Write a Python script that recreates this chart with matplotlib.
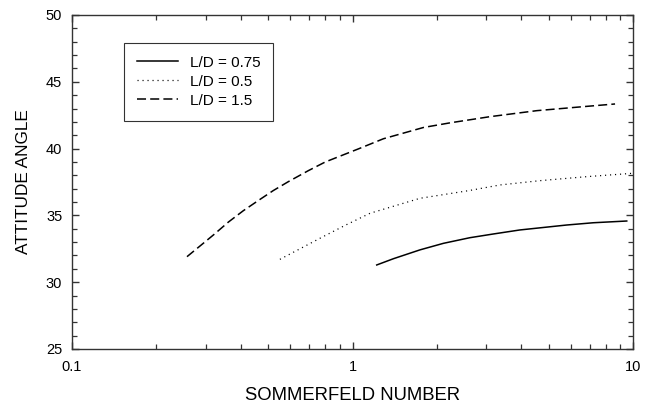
import matplotlib
matplotlib.use("Agg")
import matplotlib.pyplot as plt
from matplotlib.ticker import LogLocator, FixedLocator, NullFormatter, MultipleLocator

plt.rcParams['font.family'] = ['Liberation Sans', 'DejaVu Sans']
plt.rcParams['lines.scale_dashes'] = False

# Data
x_075 = [1.22, 1.40, 1.74, 2.11, 2.62, 3.18, 3.95, 5.80, 7.22, 9.5]
y_075 = [31.29, 31.76, 32.42, 32.91, 33.33, 33.61, 33.91, 34.28, 34.45, 34.58]

x_05 = [0.551, 0.766, 0.94, 1.155, 1.74, 2.59, 3.36, 4.66, 6.84, 9.95]
y_05 = [31.71, 33.29, 34.25, 35.16, 36.28, 36.85, 37.28, 37.60, 37.90, 38.15]

x_15 = [0.257, 0.286, 0.319, 0.361, 0.408, 0.462, 0.522, 0.590, 0.696, 0.80,
        1.05, 1.29, 1.79, 2.23, 3.09, 4.54, 6.65, 8.63]
y_15 = [31.91, 32.71, 33.53, 34.50, 35.35, 36.12, 36.86, 37.52, 38.35, 39.00,
        39.98, 40.74, 41.58, 41.93, 42.39, 42.84, 43.14, 43.34]

labels = ["L/D = 0.75", "L/D = 0.5", "L/D = 1.5"]
x_ticks = [0.1, 1, 10]
x_ticklabels = ["0.1", "1", "10"]
y_ticks = [25, 30, 35, 40, 45, 50]

W, H = 651, 409
fig = plt.figure(figsize=(W/100, H/100), dpi=100)
ax = fig.add_axes([72/W, (H-349)/H, 561/W, 334/H])

ax.plot(x_075, y_075, color='black', lw=1.1, linestyle='-', label=labels[0])
ax.plot(x_05, y_05, color='black', lw=0.9, linestyle=(0, (0.8, 2.8)), label=labels[1])
ax.plot(x_15, y_15, color='black', lw=1.1, linestyle=(0, (6.5, 3.0)), label=labels[2])

ax.set_xscale('log')
ax.set_xlim(0.1, 10)
ax.set_ylim(25, 50)
ax.xaxis.set_major_locator(FixedLocator(x_ticks))
ax.set_xticklabels(x_ticklabels)
ax.xaxis.set_minor_locator(LogLocator(base=10, subs=range(2, 10)))
ax.xaxis.set_minor_formatter(NullFormatter())
ax.set_yticks(y_ticks)
ax.yaxis.set_minor_locator(MultipleLocator(1))

for s in ax.spines.values():
    s.set_color('#333333')
    s.set_linewidth(1.0)

ax.tick_params(which='both', direction='in', top=True, right=True, color='#333333', labelsize=10.5)
ax.tick_params(which='major', length=5, width=1.0, pad=7)
ax.tick_params(which='minor', length=3.5, width=0.9)
ax.tick_params(axis='x', which='major', pad=8)

xl = ax.set_xlabel("SOMMERFELD NUMBER", fontsize=13.3)
ax.xaxis.set_label_coords(0.5, (349-396)/334)
xl.set_va('center')
yl = ax.set_ylabel("ATTITUDE ANGLE", fontsize=12.4)
ax.yaxis.set_label_coords((24-72)/561, 0.5)
yl.set_va('center')

leg = ax.legend(loc='upper left', bbox_to_anchor=((124-72)/561, (349-42.7)/334),
                fontsize=11, frameon=True, fancybox=False, edgecolor='black',
                handlelength=2.7, handletextpad=0.75, borderpad=0.85, labelspacing=0.33,
                borderaxespad=0)
leg.get_frame().set_linewidth(0.8)

fig.savefig("out.png", dpi=100)
